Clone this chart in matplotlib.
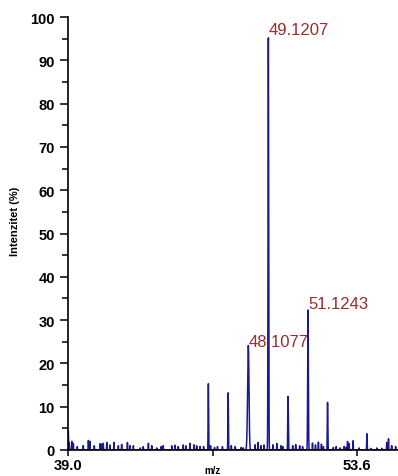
import numpy as np
import matplotlib
matplotlib.use("Agg")
import matplotlib.pyplot as plt

plt.rcParams['font.family'] = ['Liberation Sans', 'DejaVu Sans']

# Main peaks (m/z, intensity %, width sigma)
peak_mz = [46.09, 47.09, 48.09, 48.118, 49.1207, 50.11, 50.13, 51.1243, 52.11, 53.12, 54.10, 55.10, 55.19]
peak_int = [15.3, 13.2, 10.0, 16.2, 95.5, 10.5, 6.0, 32.5, 11.0, 2.0, 3.8, 1.8, 2.6]
peak_sig = [0.012, 0.012, 0.035, 0.030, 0.016, 0.012, 0.012, 0.017, 0.013, 0.012, 0.012, 0.010, 0.010]

# Small baseline peaks (m/z, intensity %)
noise_mz = [39.015, 39.06, 39.19, 39.27, 39.47, 39.77, 40.03, 40.11, 40.33, 40.62, 40.70,
            40.78, 40.96, 41.12, 41.32, 41.54, 41.71, 42.00, 42.13, 42.30, 42.64, 42.80,
            43.06, 43.23, 43.48, 43.70, 43.81, 44.24, 44.41, 44.57, 44.82, 44.96, 45.16,
            45.37, 45.50, 45.67, 45.85, 46.20, 46.40, 46.55, 46.80, 47.25, 47.45,
            47.75, 47.85, 48.45, 48.60, 48.75, 48.90, 49.35, 49.55, 49.75, 49.85,
            50.35, 50.50, 50.70, 50.85, 51.35, 51.50, 51.65, 51.80, 51.90,
            52.40, 52.55, 52.75, 52.95, 53.05, 53.20, 53.40, 53.70, 54.30,
            54.60, 54.85, 55.35, 55.55]
noise_int = [4.5, 1.8, 2.0, 1.5, 0.8, 1.0, 2.2, 2.0, 1.0, 1.5, 1.4,
             1.6, 1.8, 1.2, 1.8, 1.0, 1.3, 1.8, 1.0, 1.0, 0.5, 0.8,
             1.6, 1.0, 0.5, 0.8, 1.0, 1.0, 1.1, 0.8, 1.2, 1.0, 1.6,
             1.2, 1.0, 0.8, 0.8, 1.0, 0.6, 0.8, 0.8, 1.0, 0.8,
             0.6, 0.5, 1.2, 1.8, 1.0, 1.2, 1.2, 1.5, 1.0, 0.8,
             1.0, 1.3, 1.0, 0.8, 1.6, 1.2, 1.8, 1.4, 0.8,
             0.6, 0.8, 0.5, 0.8, 0.6, 1.5, 2.2, 0.5, 0.4,
             0.5, 0.4, 1.0, 0.8]

labels_mz = [48.1077, 49.1207, 51.1243]
labels_txt = ["48.1077", "49.1207", "51.1243"]
labels_y = [24.0, 96.0, 32.8]

x = np.arange(38.95, 55.75, 0.004)
y = np.zeros_like(x)
for c, h, s in zip(peak_mz, peak_int, peak_sig):
    y += h * np.exp(-0.5 * ((x - c) / s) ** 2)
for c, h in zip(noise_mz, noise_int):
    y += h * np.exp(-0.5 * ((x - c) / 0.008) ** 2)

fig = plt.figure(figsize=(3.98, 4.77), dpi=100)
ax = fig.add_axes([68/398, 26/477, 330/398, 433/477])
ax.plot(x, y, color='#1a1a90', lw=1.1)
ax.set_xlim(39.0, 55.67)
ax.set_ylim(0, 100)

for mz, t, yy in zip(labels_mz, labels_txt, labels_y):
    ax.text(mz, yy, t, color='#9a2b2b', fontsize=12, ha='left', va='baseline')

ax.spines['top'].set_visible(False)
ax.spines['right'].set_visible(False)
ax.spines['left'].set_linewidth(1.2)
ax.spines['bottom'].set_linewidth(1.2)

ax.set_yticks(np.arange(0, 101, 10))
ax.set_yticks(np.arange(5, 100, 10), minor=True)
ax.set_yticklabels([str(v) for v in range(0, 101, 10)], fontsize=10.5, fontweight='bold')
ax.tick_params(axis='y', which='major', length=6, width=1.1, direction='out')
ax.tick_params(axis='y', which='minor', length=4, width=1.1, direction='out')

ax.set_xticks([39.0, 46.3, 53.6])
ax.set_xticklabels(['39.0', '', '53.6'], fontsize=10.5, fontweight='bold')
ax.tick_params(axis='x', length=4, width=1.1, direction='out', pad=2)

ax.set_ylabel('Intenzitet (%)', fontsize=8, fontweight='bold')
ax.yaxis.set_label_coords(-0.145, 0.53)
ax.set_xlabel('m/z', fontsize=7, fontweight='bold')
ax.xaxis.set_label_coords((46.3 - 39.0) / (55.67 - 39.0), -0.035)

fig.savefig('out.png', dpi=100)
